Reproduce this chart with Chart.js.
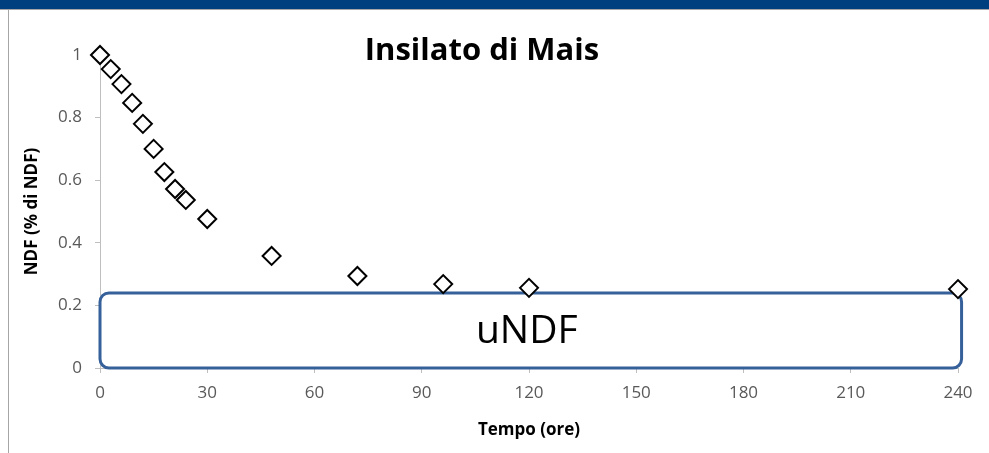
<!DOCTYPE html>
<html>
<head>
<meta charset="utf-8">
<script src="https://cdn.jsdelivr.net/npm/chart.js@4.4.1/dist/chart.umd.min.js"></script>
<style>
  html, body { margin: 0; padding: 0; background: #fff; }
  #wrap { width: 989px; height: 453px; position: relative; }
</style>
</head>
<body>
<div id="wrap"><canvas id="grafico"></canvas></div>
<script>
// dati
const tempo = [0, 3, 6, 9, 12, 15, 18, 21, 24, 30, 48, 72, 96, 120, 240];
const ndf = [1.0, 0.955, 0.907, 0.847, 0.78, 0.70, 0.626, 0.572, 0.537, 0.476, 0.358, 0.294, 0.268, 0.256, 0.252];
const xTicks = [0, 30, 60, 90, 120, 150, 180, 210, 240];
const yTicks = [0, 0.2, 0.4, 0.6, 0.8, 1];
const boxX = [0, 241];
const boxY = [0, 0.24];
const titolo = 'Insilato di Mais';
const boxLabel = 'uNDF';

const FONT = "'Open Sans', sans-serif";

const decor = {
    id: 'decor',
    beforeDraw(chart) {
        const ctx = chart.ctx;
        ctx.save();
        // banda blu in alto e bordo della slide
        ctx.fillStyle = '#003f7f';
        ctx.fillRect(0, 0, chart.width, 9);
        ctx.fillStyle = '#a6a6a6';
        ctx.fillRect(0, 9, chart.width, 1);
        ctx.fillRect(8, 9, 1, chart.height - 9);
        ctx.restore();
    },
    beforeDatasetsDraw(chart) {
        const ctx = chart.ctx;
        const x = chart.scales.x, y = chart.scales.y;
        const x0 = x.getPixelForValue(boxX[0]), x1 = x.getPixelForValue(boxX[1]);
        const y0 = y.getPixelForValue(boxY[1]), y1 = y.getPixelForValue(boxY[0]);
        ctx.save();
        ctx.beginPath();
        ctx.roundRect(x0, y0, x1 - x0, y1 - y0, 9);
        ctx.fillStyle = '#ffffff';
        ctx.fill();
        ctx.lineWidth = 3;
        ctx.strokeStyle = '#36609a';
        ctx.stroke();
        ctx.fillStyle = '#000';
        ctx.font = "39px " + FONT;
        ctx.textAlign = 'center';
        ctx.textBaseline = 'middle';
        ctx.fillText(boxLabel, (x0 + x1) / 2 - 4, (y0 + y1) / 2 + 1);
        // titolo
        ctx.font = "bold 31px " + FONT;
        ctx.fillText(titolo, 482, 51);
        ctx.restore();
    }
};

new Chart(document.getElementById('grafico'), {
    type: 'scatter',
    data: {
        datasets: [{
            data: tempo.map((t, i) => ({ x: t, y: ndf[i] })),
            pointStyle: 'rectRot',
            pointRadius: 9,
            pointHoverRadius: 9,
            pointBorderWidth: 2,
            pointBorderColor: '#000',
            pointBackgroundColor: '#fff',
            clip: false
        }]
    },
    options: {
        responsive: true,
        maintainAspectRatio: false,
        animation: false,
        layout: { padding: { left: 0, right: 31, top: 55, bottom: 0 } },
        plugins: {
            legend: false,
            tooltip: { enabled: false }
        },
        scales: {
            x: {
                type: 'linear',
                min: 0,
                max: 240,
                afterBuildTicks: s => { s.ticks = xTicks.map(v => ({ value: v })); },
                afterFit: s => { s.height = 85; },
                grid: { drawOnChartArea: false, drawTicks: true, tickLength: 5, color: '#bfbfbf' },
                border: { color: '#bfbfbf' },
                ticks: { color: '#595959', padding: 10, font: { family: FONT, size: 17 } },
                title: {
                    display: true,
                    text: 'Tempo (ore)',
                    color: '#000',
                    font: { family: FONT, size: 17, weight: 'bold' },
                    padding: { top: 0, bottom: 13 }
                }
            },
            y: {
                min: 0,
                max: 1,
                afterBuildTicks: s => { s.ticks = yTicks.map(v => ({ value: v })); },
                afterFit: s => { s.width = 100; },
                grid: { drawOnChartArea: false, drawTicks: true, tickLength: 5, color: '#bfbfbf' },
                border: { color: '#bfbfbf' },
                ticks: { color: '#595959', padding: 13, font: { family: FONT, size: 17 }, callback: v => String(v) },
                title: {
                    display: true,
                    text: 'NDF (% di NDF)',
                    color: '#000',
                    font: { family: FONT, size: 17, weight: 'bold' },
                    padding: { top: 22, bottom: 0 }
                }
            }
        }
    },
    plugins: [decor]
});
</script>
</body>
</html>
